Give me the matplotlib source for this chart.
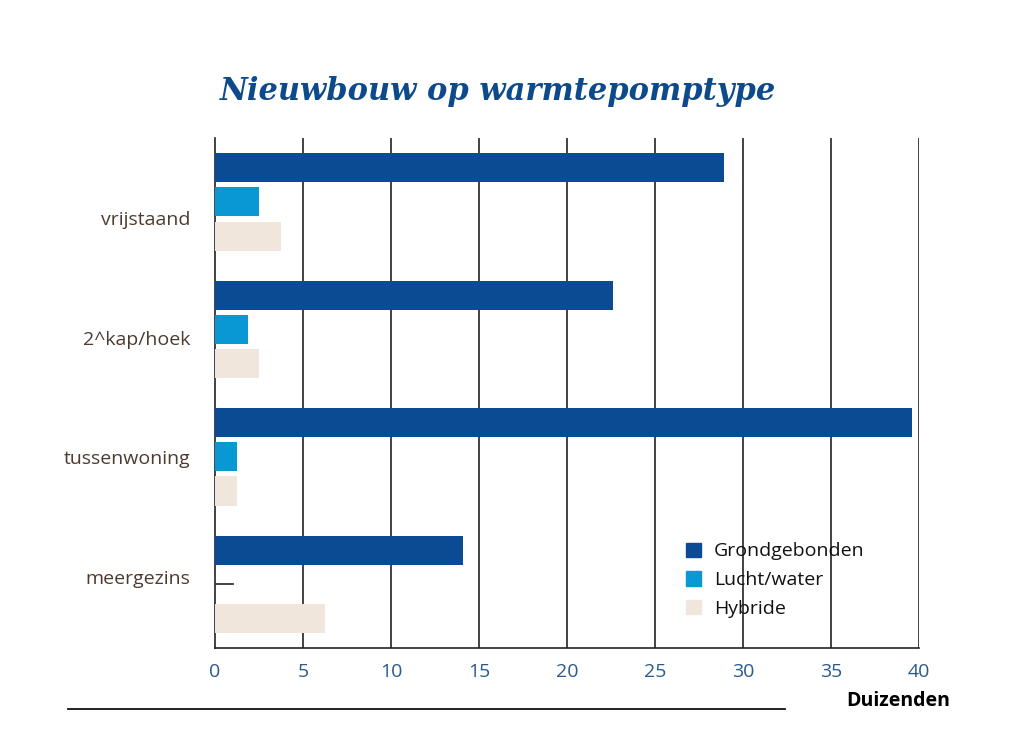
import matplotlib
matplotlib.use("Agg")
import matplotlib.pyplot as plt
import numpy as np
from matplotlib.patches import Patch

categories = ["vrijstaand", "2^kap/hoek", "tussenwoning", "meergezins"]
series_names = ["Grondgebonden", "Lucht/water", "Hybride"]
grondgebonden = [28.9, 22.6, 39.6, 14.1]
lucht_water = [2.5, 1.9, 1.25, 0.0]
hybride = [3.75, 2.5, 1.25, 6.25]
dash_value = 1.0  # meergezins Lucht/water shown as a dash
xticks = [0, 5, 10, 15, 20, 25, 30, 35, 40]

colors = ["#0b4b93", "#0898d4", "#f1e6dc"]

plt.rcParams['font.family'] = ['Open Sans', 'DejaVu Sans']
fig = plt.figure(figsize=(10.24, 7.31), dpi=100)
ax = fig.add_axes([0.21, 0.1135, 0.6875, 0.6975])

y = np.arange(len(categories))
offs = [-0.268, 0.0, 0.268]
h = 0.228
for vals, off, c, name in zip([grondgebonden, lucht_water, hybride], offs, colors, series_names):
    ax.barh(y + off, vals, height=h, color=c, label=name, zorder=3)
# dash for meergezins lucht/water
ax.plot([0, dash_value], [y[3], y[3]], color="#333333", lw=1.3, zorder=3)

ax.set_xlim(0, 40)
ax.set_ylim(3.5, -0.5)
ax.set_xticks(xticks)
ax.set_xticklabels([str(t) for t in xticks], color="#2b5a8c", fontsize=14)
# category labels sit on a slightly tighter pitch than the bar groups
ax.set_yticks(0.13 + 0.937 * y)
ax.set_yticklabels(categories, color="#4e3b2e", fontsize=14)
ax.tick_params(axis='y', length=0, pad=18)
ax.tick_params(axis='x', length=0, pad=11)
for t in xticks[1:]:
    ax.axvline(t, color="#222222", lw=1.2, zorder=1)
for s in ["top", "right"]:
    ax.spines[s].set_visible(False)
ax.spines["left"].set_color("#222222")
ax.spines["left"].set_linewidth(1.2)
ax.spines["bottom"].set_color("#222222")
ax.spines["bottom"].set_linewidth(1.2)

handles = [Patch(color=c, label=n) for c, n in zip(colors, series_names)]
leg = ax.legend(handles=handles, loc="upper left", bbox_to_anchor=(0.669, 0.207),
                frameon=False, fontsize=14, handlelength=0.75, handleheight=0.75,
                handletextpad=0.7, labelspacing=0.55, borderpad=0, borderaxespad=0)
for t in leg.get_texts():
    t.set_color("#111111")

fig.text(0.486, 0.875, "Nieuwbouw op warmtepomptype", ha="center", va="center",
         fontsize=22, fontstyle="italic", fontweight="bold", family="DejaVu Serif",
         color="#0d4a8c")
fig.text(0.877, 0.041, "Duizenden", ha="center", va="center", fontsize=14,
         fontweight="bold", color="#000000")
fig.add_artist(plt.Line2D([0.066, 0.767], [0.030, 0.030], color="#111111", lw=1.3,
                          transform=fig.transFigure))

fig.savefig("out.png", dpi=100)
